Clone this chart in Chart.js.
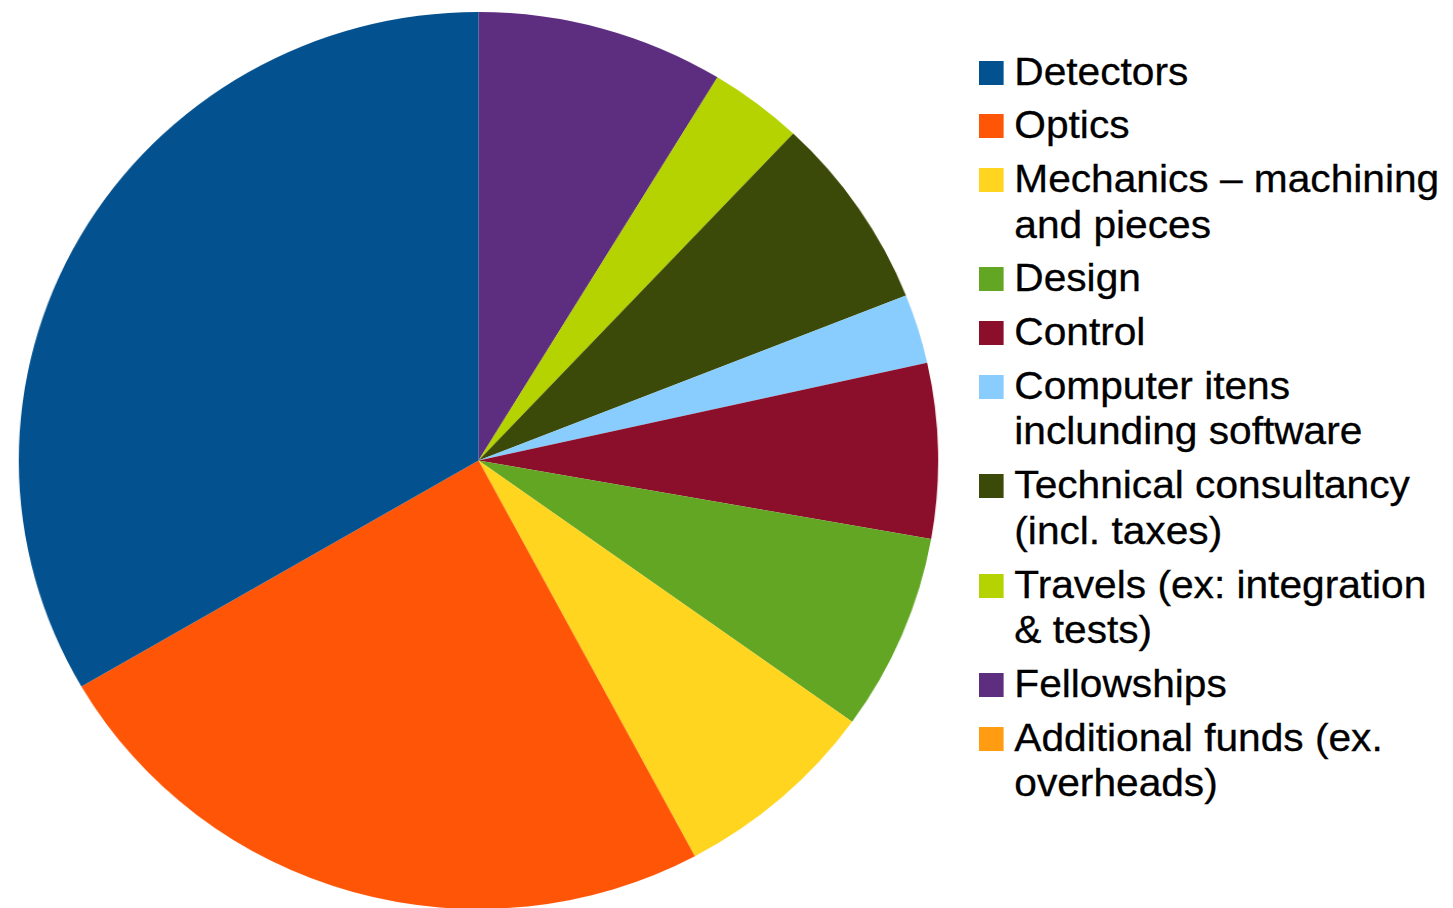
<!DOCTYPE html>
<html>
<head>
<meta charset="utf-8">
<script src="https://cdn.jsdelivr.net/npm/chart.js@4"></script>
<style>
  html, body { margin: 0; padding: 0; background: #fff; }
  body { width: 1453px; height: 908px; position: relative; overflow: hidden; }
  #pieBox {
    position: absolute; left: 29.5px; top: 11.5px; width: 897px; height: 897px;
    transform: scaleX(1.025); transform-origin: 448.5px 448.5px;
  }
  #legend {
    position: absolute; left: 979px; top: 49.5px;
    font-family: "Liberation Sans", Arial, sans-serif; font-size: 38px; line-height: 45.5px;
    color: #000; transform: scaleX(1.07); transform-origin: 0 0;
    -webkit-text-stroke: 0.3px #000;
  }
  .item { position: relative; padding-left: 33px; margin-bottom: 8.3px; white-space: nowrap; }
  .box { position: absolute; left: 0; top: 11px; width: 23.4px; height: 24px; }
</style>
</head>
<body>
<div id="pieBox"><canvas id="chart" width="897" height="897"></canvas></div>
<div id="legend"></div>
<script>
// ================= DATA =================
const categories = [
  ["Detectors"],
  ["Optics"],
  ["Mechanics – machining", "and pieces"],
  ["Design"],
  ["Control"],
  ["Computer itens", "inclunding software"],
  ["Technical consultancy", "(incl. taxes)"],
  ["Travels (ex: integration", "& tests)"],
  ["Fellowships"],
  ["Additional funds (ex.", "overheads)"]
];

// share of budget, %
const shares = [33.4, 24.4, 7.3, 7.1, 6.3, 2.5, 7.0, 3.3, 8.7, 0];

const colors = [
  "#03518f", "#ff5507", "#ffd520", "#62a624", "#8b0f2b",
  "#88cdfd", "#3b4a08", "#b4d300", "#5d2d80", "#ff9c12"
];

// ================= CHART =================
// slices run counter-clockwise from 12 o'clock in legend order,
// so feed the pie the reversed lists (Chart.js draws clockwise)
const chart = new Chart(document.getElementById("chart"), {
  type: "pie",
  data: {
    labels: categories.slice().reverse(),
    datasets: [{
      data: shares.slice().reverse(),
      backgroundColor: colors.slice().reverse(),
      borderWidth: 0
    }]
  },
  options: {
    responsive: false,
    animation: false,
    layout: { padding: 0 },
    plugins: {
      legend: { display: false },
      tooltip: { enabled: false }
    }
  }
});

// ================= LEGEND =================
const legendEl = document.getElementById("legend");
categories.forEach((lines, i) => {
  const item = document.createElement("div");
  item.className = "item";
  const box = document.createElement("span");
  box.className = "box";
  box.style.background = colors[i];
  item.appendChild(box);
  lines.forEach((line, j) => {
    if (j > 0) item.appendChild(document.createElement("br"));
    item.appendChild(document.createTextNode(line));
  });
  legendEl.appendChild(item);
});
</script>
</body>
</html>
